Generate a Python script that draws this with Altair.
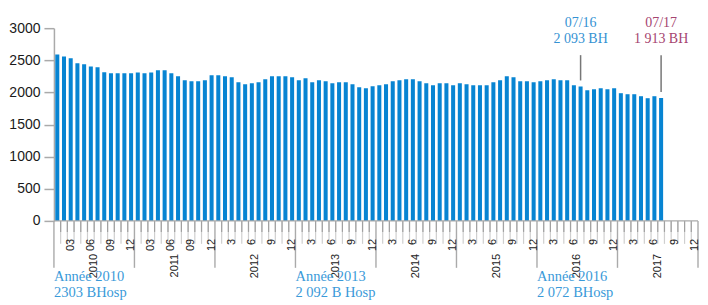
import altair as alt
import pandas as pd

# ---------------- data ----------------
years = [2010, 2011, 2012, 2013, 2014, 2015, 2016, 2017]
values = [2590, 2560, 2530, 2455, 2440, 2405, 2390, 2315, 2300, 2300, 2300, 2300,
          2310, 2300, 2310, 2345, 2345, 2300, 2252, 2190, 2174, 2174, 2190, 2267,
          2267, 2252, 2236, 2158, 2127, 2143, 2158, 2205, 2252, 2252, 2252, 2236,
          2190, 2220, 2158, 2190, 2174, 2143, 2158, 2158, 2127, 2081, 2065, 2096,
          2112, 2127, 2174, 2190, 2205, 2205, 2174, 2143, 2112, 2143, 2143, 2112,
          2143, 2127, 2112, 2112, 2112, 2158, 2190, 2252, 2236, 2174, 2174, 2158,
          2174, 2190, 2205, 2190, 2190, 2112, 2093, 2034, 2050, 2065, 2050, 2065,
          1988, 1972, 1972, 1941, 1910, 1941, 1913]
tick_months = [3, 6, 9, 12]
tick_labels_early = ["03", "06", "09", "12"]   # 2010, 2011
tick_labels_late = ["3", "6", "9", "12"]       # 2012 onwards
y_ticks = [0, 500, 1000, 1500, 2000, 2500, 3000]

note_years = [2010, 2013, 2016]
note_line1 = ["Année 2010", "Année 2013", "Année 2016"]
note_line2 = ["2303 BHosp", "2 092 B Hosp", "2 072 BHosp"]

call_year = [2016, 2017]
call_month = [7, 7]
call_title = ["07/16", "07/17"]
call_text = ["2 093 BH", "1 913 BH"]
call_value = [2093, 1913]
call_color = ["#3592d3", "#a5446f"]

# ---------------- layout / style ----------------
W, H = 645, 193
BAR = "#0784d2"
AXIS = "#aaaaaa"
NSLOTS = len(years) * 12


def slot(y, m):
    return (y - years[0]) * 12 + (m - 1)


bars = pd.DataFrame({"i": range(len(values)), "value": values})
bars["x0"] = bars["i"] + 0.2
bars["x1"] = bars["i"] + 0.8
bars["base"] = 0

baseline_df = pd.DataFrame({"xa": [0], "xb": [NSLOTS], "value": [0]})

bounds = pd.DataFrame({"b": [b for b in range(1, NSLOTS) if b % 12 != 0]})
long_ticks = pd.DataFrame({"b": list(range(0, NSLOTS + 1, 12))})

mrows = []
for y in years:
    labs = tick_labels_early if y < 2012 else tick_labels_late
    for m, t in zip(tick_months, labs):
        mrows.append({"x": slot(y, m) + 0.5, "t": t})
mlabels = pd.DataFrame(mrows)

ylabels = pd.DataFrame({"x": [slot(y, 1) + 6 for y in years], "t": [str(y) for y in years]})

notes = pd.DataFrame({"x": [slot(y, 1) for y in note_years], "l1": note_line1, "l2": note_line2})

calls = pd.DataFrame({
    "x": [slot(y, m) + 0.5 for y, m in zip(call_year, call_month)],
    "title": call_title, "text": call_text, "value": call_value, "color": call_color,
})

xs = alt.Scale(domain=[0, NSLOTS], nice=False, zero=False)
ys = alt.Scale(domain=[0, 3000], nice=False)
y_axis = alt.Axis(
    values=y_ticks, tickCount=len(y_ticks), format="d", title=None, grid=False,
    tickSize=10, labelPadding=4, labelOverlap=False, labelFont="Liberation Sans",
    labelFontSize=14, labelColor="#1a1a1a", domainColor=AXIS, tickColor=AXIS,
    domainWidth=1.5, tickWidth=1.5)
Y = alt.Y("value:Q", scale=ys, axis=y_axis)

bar_layer = alt.Chart(bars).mark_bar(color=BAR).encode(
    x=alt.X("x0:Q", scale=xs, axis=None),
    x2="x1:Q",
    y=Y,
    y2="base:Q",
)

base_line = alt.Chart(baseline_df).mark_rule(color=AXIS, strokeWidth=1.2).encode(
    x=alt.X("xa:Q", axis=None), x2="xb:Q", y=Y)

short_light = alt.Chart(bounds).mark_rule(color="#cfcfcf", strokeWidth=1.2).encode(
    x=alt.X("b:Q", axis=None), y=alt.value(H), y2=alt.value(H + 23))
short_dark = alt.Chart(bounds).mark_rule(color="#a0a0a0", strokeWidth=1.2).encode(
    x=alt.X("b:Q", axis=None), y=alt.value(H), y2=alt.value(H + 11))
long_layer = alt.Chart(long_ticks).mark_rule(color=AXIS, strokeWidth=1.4).encode(
    x=alt.X("b:Q", axis=None), y=alt.value(H), y2=alt.value(H + 47))

month_text = alt.Chart(mlabels).mark_text(
    angle=270, align="right", baseline="middle", font="Liberation Sans",
    fontSize=11, color="#222222").encode(
    x=alt.X("x:Q", axis=None), y=alt.value(H + 18), text="t:N")

year_text = alt.Chart(ylabels).mark_text(
    angle=270, align="right", baseline="middle", font="Liberation Sans",
    fontSize=11, color="#222222").encode(
    x=alt.X("x:Q", axis=None), y=alt.value(H + 33), text="t:N")

note1 = alt.Chart(notes).mark_text(
    align="left", baseline="alphabetic", font="Liberation Serif", fontSize=14.5,
    color="#3a9ad9").encode(
    x=alt.X("x:Q", axis=None), y=alt.value(H + 60), text="l1:N")
note2 = alt.Chart(notes).mark_text(
    align="left", baseline="alphabetic", font="Liberation Serif", fontSize=14.5,
    color="#3a9ad9").encode(
    x=alt.X("x:Q", axis=None), y=alt.value(H + 76), text="l2:N")

call_rule = alt.Chart(calls).mark_rule(color="#777777", strokeWidth=1.5, yOffset=-6).encode(
    x=alt.X("x:Q", axis=None), y=Y, y2=alt.value(27))
call_t1 = alt.Chart(calls).mark_text(
    align="center", baseline="alphabetic", font="Liberation Serif", fontSize=14).encode(
    x=alt.X("x:Q", axis=None), y=alt.value(-1), text="title:N",
    color=alt.Color("color:N", scale=None))
call_t2 = alt.Chart(calls).mark_text(
    align="center", baseline="alphabetic", font="Liberation Serif", fontSize=14).encode(
    x=alt.X("x:Q", axis=None), y=alt.value(15), text="text:N",
    color=alt.Color("color:N", scale=None))

chart = alt.layer(
    short_light, short_dark, long_layer, bar_layer, base_line,
    month_text, year_text, note1, note2, call_rule, call_t1, call_t2,
).properties(
    width=W, height=H, padding={"top": 8, "left": 0, "right": 0, "bottom": 0}
).configure_view(stroke=None)

chart.save("out.html", embed_options={"renderer": "svg", "actions": False})
